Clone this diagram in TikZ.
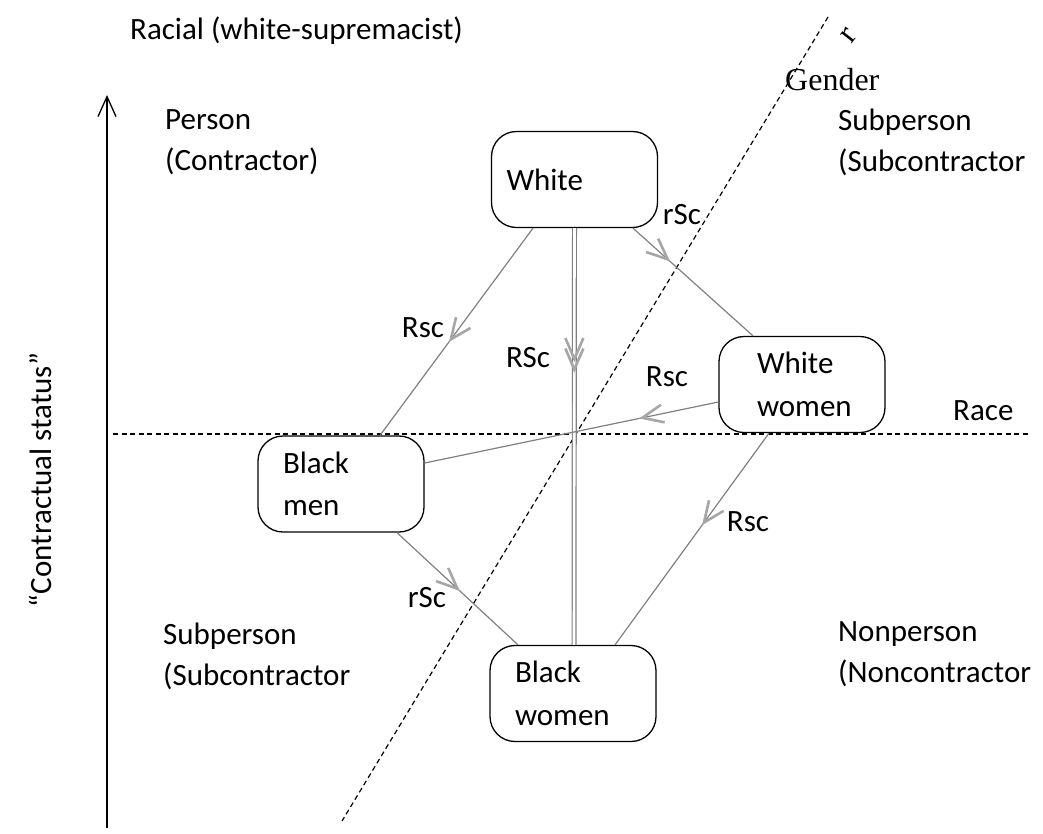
\documentclass[tikz,border=0pt]{standalone}
\usepackage{fontspec}
\setmainfont{Carlito}
\newfontfamily\gserif{Liberation Serif}
\usetikzlibrary{arrows.meta,decorations.markings}
\definecolor{edgegray}{HTML}{808080}
\definecolor{tipgray}{HTML}{A6A6A6}
\tikzset{
  box/.style={draw, line width=1.3pt, rounded corners=25pt, minimum width=166pt, minimum height=96pt, align=left, inner ysep=0pt, font=\fontsize{31}{42.5}\selectfont},
  edge/.style={draw=edgegray, line width=1.2pt},
  midtip/.style={postaction={decorate,decoration={markings,mark=at position #1 with {\arrow{Straight Barb[length=21pt,width=18pt,line width=2.6pt,color=tipgray]}}}}},
  lbl/.style={inner sep=0pt},
  txt/.style={inner sep=0pt, anchor=base west},
  txt2/.style={inner sep=0pt, anchor=west, align=left},
  dashline/.style={line width=1.2pt, dash pattern=on 5pt off 3.5pt},
}
\begin{document}
\begin{tikzpicture}[x=1pt,y=-1pt, font=\fontsize{31}{41}\selectfont]
\path[use as bounding box] (0,0) rectangle (1043,833);

% axis
\coordinate (axb) at (107,828);
\coordinate (axt) at (107,95);
\draw[line width=1.3pt, -{Straight Barb[length=20pt,width=18pt]}] (axb) -- (axt);
\node[lbl, rotate=90] (cs) at (40,480) {“Contractual status”};

% dashed lines
\coordinate (hl) at (113,434);
\coordinate (hr) at (1030,434);
\draw[dashline] (hl) -- (hr);
\coordinate (dt) at (828,17);
\coordinate (db) at (342,821);
\draw[dashline] (dt) -- (db);

% texts
\node[txt] (title) at (130,39) {Racial (white-supremacist)};
\node[txt2] (person) at (165,142) {Person\\(Contractor)};
\node[txt2] (subp1) at (838,142) {Subperson\\(Subcontractor};
\node[txt2] (subp2) at (163,656) {Subperson\\(Subcontractor};
\node[txt2] (nonp) at (838,654) {Nonperson\\(Noncontractor};
\node[txt] (race) at (953,420) {Race};
\node[txt, font=\gserif\fontsize{32}{36}\selectfont] (gender) at (785,90) {Gender};
\node[lbl, font=\gserif\fontsize{32}{36}\selectfont, rotate=52] (rr) at (849,36) {r};

% boxes
\node[box, text width=136pt, inner xsep=15pt] (W) at (574.5,179.5) {White};
\node[box, text width=90pt, inner xsep=38pt] (WW) at (802,384.5) {White\\women};
\node[box, text width=116pt, inner xsep=25pt] (BM) at (341,484) {Black\\men};
\node[box, text width=116pt, inner xsep=25pt] (BW) at (573,693.5) {Black\\women};

% edges
\draw[edge, midtip=0.55] ([xshift=-41.5pt]W.south) -- ([xshift=39pt]BM.north);
\draw[edge, midtip=0.31] ([xshift=58.5pt]W.south) -- ([xshift=-49pt]WW.north);
\draw[draw=edgegray, line width=1.2pt, double=white, double distance=2.6pt] (W.south) -- ([xshift=1pt]BW.north);
\path[midtip=0.322, midtip=0.347] (W.south) -- ([xshift=1pt]BW.north);
\draw[edge, midtip=0.27] ([yshift=-17.5pt]WW.west) -- ([yshift=21pt]BM.east);
\draw[edge, midtip=0.435] ([xshift=-33pt]WW.south) -- ([xshift=42pt]BW.north);
\draw[edge, midtip=0.52] ([xshift=56pt]BM.south) -- ([xshift=-55pt]BW.north);

% edge labels
\node[lbl] (l1) at (423,328) {Rsc};
\node[lbl] (l2) at (682,215) {rSc};
\node[lbl] (l3) at (528,358) {RSc};
\node[lbl] (l4) at (667,377) {Rsc};
\node[lbl] (l5) at (748,522) {Rsc};
\node[lbl] (l6) at (427,598) {rSc};
\end{tikzpicture}
\end{document}
